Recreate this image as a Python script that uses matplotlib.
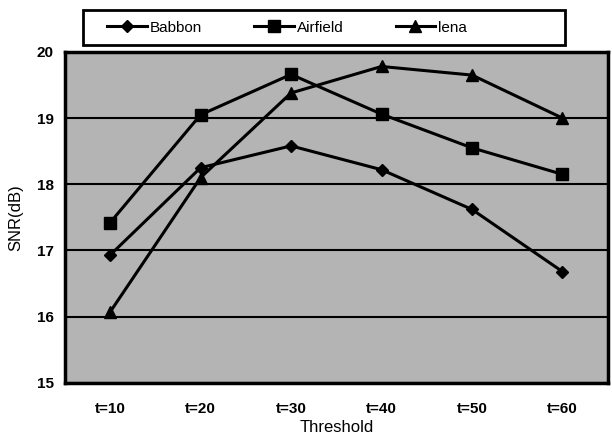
import matplotlib.pyplot as plt
from matplotlib.patches import Rectangle

plt.rcParams['font.family'] = ['Liberation Sans Narrow', 'Liberation Sans', 'DejaVu Sans']

thresholds = ['t=10', 't=20', 't=30', 't=40', 't=50', 't=60']
babbon = [16.93, 18.25, 18.58, 18.22, 17.62, 16.68]
airfield = [17.42, 19.05, 19.66, 19.06, 18.55, 18.15]
lena = [16.07, 18.10, 19.38, 19.78, 19.65, 19.00]

fig = plt.figure(figsize=(6.12, 4.4), dpi=100)
ax = fig.add_axes([0.106, 0.13, 0.887, 0.752])
ax.set_facecolor('#b4b4b4')

x = range(1, len(thresholds) + 1)
ax.plot(x, babbon, color='black', lw=2.2, marker='D', ms=6, label='Babbon')
ax.plot(x, airfield, color='black', lw=2.2, marker='s', ms=8, label='Airfield')
ax.plot(x, lena, color='black', lw=2.2, marker='^', ms=8, label='lena')

ax.set_xlim(0.5, 6.5)
ax.set_ylim(15, 20)
ax.set_yticks([15, 16, 17, 18, 19, 20])
ax.set_xticks(list(x))
ax.set_xticklabels(thresholds)
ax.tick_params(axis='x', length=0, labelsize=11, pad=14)
ax.tick_params(axis='y', length=0, labelsize=11, pad=8)
for lab in ax.get_xticklabels() + ax.get_yticklabels():
    lab.set_fontweight('bold')
ax.yaxis.grid(True, color='black', lw=1.5)
ax.set_axisbelow(True)
for s in ax.spines.values():
    s.set_linewidth(2.5)

ax.set_xlabel('Threshold', fontsize=12, labelpad=3)
ax.set_ylabel('SNR(dB)', fontsize=12, labelpad=10)

# legend box
fig.patches.append(Rectangle((0.136, 0.898), 0.787, 0.079, transform=fig.transFigure,
                             fill=False, edgecolor='black', lw=2))
leg = fig.legend(loc='center left', bbox_to_anchor=(0.165, 0.937),
                 ncol=3, frameon=False, fontsize=11, handlelength=2.6,
                 handletextpad=0.2, columnspacing=3.4, borderaxespad=0)

fig.savefig('out.png', dpi=100)
